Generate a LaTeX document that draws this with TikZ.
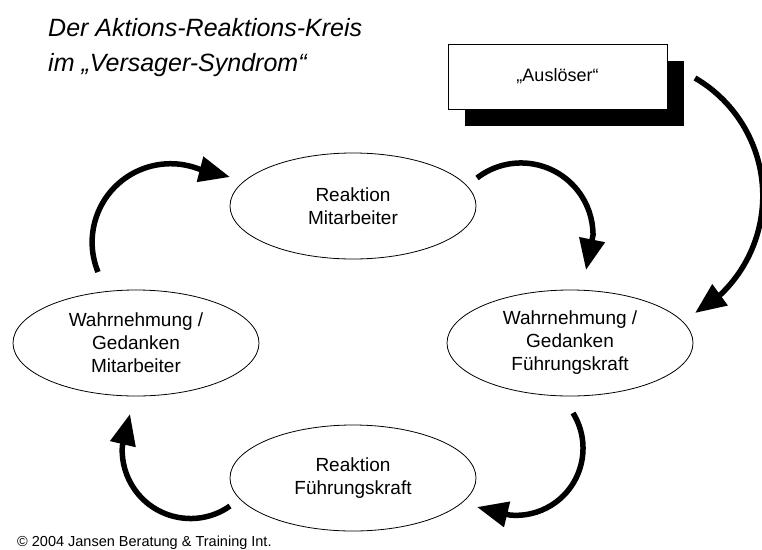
\documentclass[tikz,border=0pt]{standalone}
\usepackage{fontspec}
\setmainfont{Liberation Sans}
\usepackage{tikz}
\usetikzlibrary{shapes.geometric}
\usetikzlibrary{shadows}
\usetikzlibrary{arrows.meta}

\begin{document}
\begin{tikzpicture}[x = 1pt, y = -1pt,
		kreis/.style = {ellipse, draw, line width = 0.8pt, minimum width = 246pt, minimum height = 106pt, inner sep = 0pt, align = center, font = \fontsize{19}{23}\selectfont},
		kasten/.style = {draw, fill = white, line width = 0.8pt, minimum width = 219pt, minimum height = 65pt, font = \fontsize{18}{23}\selectfont, drop shadow = {shadow xshift = 17pt, shadow yshift = -17pt, fill = black, opacity = 1}},
		pfeil/.style = {line width = 5.5pt, -{Triangle[length = 31pt, width = 25pt]}}]
	\useasboundingbox (0, 0) rectangle (762, 549);
	
	% Nodes
	\node[anchor = north west, inner sep = 0pt, align = left, font = \fontsize{25}{35}\selectfont\itshape] (titel) at (48, 18) {Der Aktions-Reaktions-Kreis\\im „Versager-Syndrom“};
	\node[kasten] (ausl) at (557.5, 76.5) {„Auslöser“};
	\node[kreis] (rmit) at (353, 206) {Reaktion\\Mitarbeiter};
	\node[kreis] (wgfk) at (570, 343) {Wahrnehmung /\\Gedanken\\Führungskraft};
	\node[kreis] (rfk) at (353, 478) {Reaktion\\Führungskraft};
	\node[kreis] (wgmit) at (136, 343) {Wahrnehmung /\\Gedanken\\Mitarbeiter};
	\node[anchor = base west, inner sep = 0pt, font = \fontsize{14.5}{15}\selectfont] (copy) at (17, 546) {© 2004 Jansen Beratung \& Training Int.};
	
	% Arrow ends
	\coordinate (p1) at (98, 272);
	\coordinate (q1) at (230, 177);
	\coordinate (p2) at (477, 178);
	\coordinate (q2) at (586, 270);
	\coordinate (p3) at (695, 78);
	\coordinate (q3) at (695, 313);
	\coordinate (p4) at (573, 413);
	\coordinate (q4) at (477, 507);
	\coordinate (p5) at (230, 506);
	\coordinate (q5) at (130, 414);
	
	% Edges
	\draw[pfeil] (p1) arc[start angle = 157.7, end angle = 291, radius = 78.5] -- (q1);
	\draw[pfeil] (p2) arc[start angle = 232.3, end angle = 360, radius = 72] -- (q2);
	\draw[pfeil] (p3) arc[start angle = 300.2, end angle = 406, radius = 136.4] -- (q3);
	\draw[pfeil] (p4) arc[start angle = -31.7, end angle = 95, radius = 67.1] -- (q4);
	\draw[pfeil] (p5) arc[start angle = 54.8, end angle = 183, radius = 68.4] -- (q5);
\end{tikzpicture}
\end{document}
